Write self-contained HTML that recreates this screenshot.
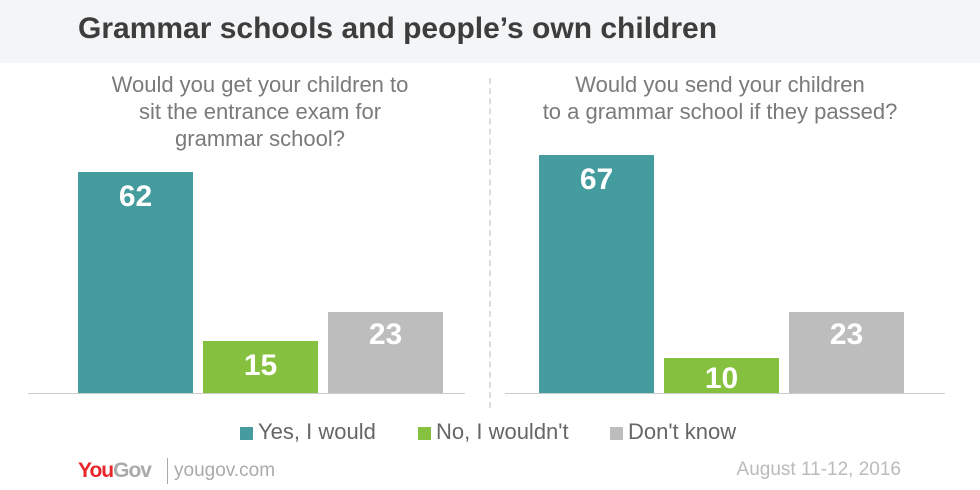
<!DOCTYPE html>
<html><head><style>
body{margin:0;width:980px;height:490px;background:#fff;font-family:"Liberation Sans",sans-serif;position:relative;overflow:hidden}
.hdr{position:absolute;left:0;top:0;width:980px;height:63px;background:#f4f5f7}
.t{position:absolute;left:78px;top:12px;font-size:30px;font-weight:bold;color:#3d3d3d;letter-spacing:0px}
.q{position:absolute;font-size:22px;color:#7a7a7a;text-align:center;line-height:27px}
.b{position:absolute;width:115px}
.v{position:absolute;width:115px;text-align:center;color:#fff;font-weight:bold;font-size:30px}
.ax{position:absolute;top:393px;height:1px;background:#ccc}
.leg{position:absolute;top:419px;font-size:22px;color:#666}
.sq{display:inline-block;width:13px;height:13px;margin-right:5px;vertical-align:-1px}
</style></head><body>
<div class="hdr"></div>
<div class="t">Grammar schools and people’s own children</div>
<div class="q" style="left:80px;width:360px;top:71px">Would you get your children to<br>sit the entrance exam for<br>grammar school?</div>
<div class="q" style="left:540px;width:360px;top:71px">Would you send your children<br>to a grammar school if they passed?</div>
<div style="position:absolute;left:489px;top:78px;height:330px;border-left:2px dashed #ddd"></div>
<div class="ax" style="left:28px;width:437px"></div>
<div class="ax" style="left:505px;width:440px"></div>
<div class="b" style="left:78px;top:172px;height:221px;background:#459c9e"></div>
<div class="v" style="left:78px;top:180px">62</div>
<div class="b" style="left:203px;top:341px;height:52px;background:#85c13e"></div>
<div class="v" style="left:203px;top:349px">15</div>
<div class="b" style="left:328px;top:312px;height:81px;background:#bdbdbd"></div>
<div class="v" style="left:328px;top:318px">23</div>
<div class="b" style="left:539px;top:155px;height:238px;background:#459c9e"></div>
<div class="v" style="left:539px;top:163px">67</div>
<div class="b" style="left:664px;top:358px;height:35px;background:#85c13e"></div>
<div class="v" style="left:664px;top:362px">10</div>
<div class="b" style="left:789px;top:312px;height:81px;background:#bdbdbd"></div>
<div class="v" style="left:789px;top:318px">23</div>
<div class="leg" style="left:240px"><span class="sq" style="background:#459c9e"></span>Yes, I would</div>
<div class="leg" style="left:418px"><span class="sq" style="background:#85c13e"></span>No, I wouldn't</div>
<div class="leg" style="left:610px"><span class="sq" style="background:#bdbdbd"></span>Don't know</div>
<div style="position:absolute;left:78px;top:459px;font-size:21px;font-weight:bold;letter-spacing:-1px"><span style="color:#e8252b">You</span><span style="color:#aaa">Gov</span></div>
<div style="position:absolute;left:167px;top:458px;height:26px;border-left:1px solid #aaa"></div>
<div style="position:absolute;left:174px;top:460px;font-size:19px;color:#aaa">yougov.com</div>
<div style="position:absolute;right:79px;top:459px;font-size:19px;color:#bbb">August 11-12, 2016</div>
</body></html>
